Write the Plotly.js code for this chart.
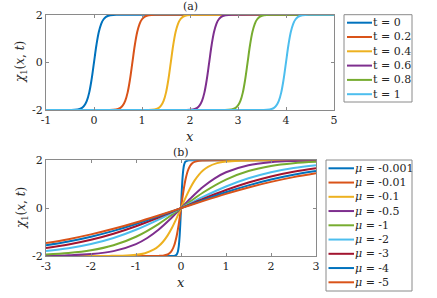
<!DOCTYPE html>
<html>
<head>
<meta charset="utf-8">
<script src="https://cdn.plot.ly/plotly-3.0.1.min.js"></script>
<style>html,body{margin:0;padding:0;background:#fff;}#plot{width:437px;height:298px;}</style>
</head>
<body>
<div id="plot"></div>
<script>
// ---------- data: panel (a) ----------
const kinkY = [-2, -1.998, -1.99, -1.956, -1.908, -1.81, -1.619, -1.27, -0.717, 0, 0.717, 1.27, 1.619, 1.81, 1.908, 1.956, 1.99, 1.998, 2];
const xT0  = [-1, -0.5, -0.4, -0.3, -0.25, -0.2, -0.15, -0.1, -0.05, 0, 0.05, 0.1, 0.15, 0.2, 0.25, 0.3, 0.4, 0.5, 5];
const xT02 = [-1, 0.3, 0.4, 0.5, 0.55, 0.6, 0.65, 0.7, 0.75, 0.8, 0.85, 0.9, 0.95, 1.0, 1.05, 1.1, 1.2, 1.3, 5];
const xT04 = [-1, 1.1, 1.2, 1.3, 1.35, 1.4, 1.45, 1.5, 1.55, 1.6, 1.65, 1.7, 1.75, 1.8, 1.85, 1.9, 2.0, 2.1, 5];
const xT06 = [-1, 1.9, 2.0, 2.1, 2.15, 2.2, 2.25, 2.3, 2.35, 2.4, 2.45, 2.5, 2.55, 2.6, 2.65, 2.7, 2.8, 2.9, 5];
const xT08 = [-1, 2.7, 2.8, 2.9, 2.95, 3.0, 3.05, 3.1, 3.15, 3.2, 3.25, 3.3, 3.35, 3.4, 3.45, 3.5, 3.6, 3.7, 5];
const xT1  = [-1, 3.5, 3.6, 3.7, 3.75, 3.8, 3.85, 3.9, 3.95, 4.0, 4.05, 4.1, 4.15, 4.2, 4.25, 4.3, 4.4, 4.5, 5];
const topX = [xT0, xT02, xT04, xT06, xT08, xT1];
const topLabels = ['t = 0', 't = 0.2', 't = 0.4', 't = 0.6', 't = 0.8', 't = 1'];

// ---------- data: panel (b) ----------
const xM0001 = [-3, -0.2, -0.15, -0.1, -0.07, -0.05, -0.04, -0.03, -0.02, -0.01, -0.005, 0, 0.005, 0.01, 0.02, 0.03, 0.04, 0.05, 0.07, 0.1, 0.15, 0.2, 3];
const yM0001 = [-2, -2, -1.994, -1.949, -1.819, -1.593, -1.404, -1.148, -0.820, -0.429, -0.217, 0, 0.217, 0.429, 0.820, 1.148, 1.404, 1.593, 1.819, 1.949, 1.994, 2, 2];
const xM001 = [-3, -1, -0.5, -0.4, -0.3, -0.25, -0.2, -0.15, -0.1, -0.08, -0.05, -0.02, 0, 0.02, 0.05, 0.08, 0.1, 0.15, 0.2, 0.25, 0.3, 0.4, 0.5, 1, 3];
const yM001 = [-2, -2, -1.996, -1.984, -1.937, -1.877, -1.762, -1.551, -1.195, -1.004, -0.664, -0.274, 0, 0.274, 0.664, 1.004, 1.195, 1.551, 1.762, 1.877, 1.937, 1.984, 1.996, 2, 2];
const xM01 = [-3, -2, -1.6, -1.3, -1, -0.8, -0.6, -0.5, -0.4, -0.3, -0.2, -0.1, 0, 0.1, 0.2, 0.3, 0.4, 0.5, 0.6, 0.8, 1, 1.3, 1.6, 2, 3];
const yM01 = [-2, -1.999, -1.996, -1.986, -1.950, -1.882, -1.728, -1.594, -1.405, -1.149, -0.821, -0.429, 0, 0.429, 0.821, 1.149, 1.405, 1.594, 1.728, 1.882, 1.950, 1.986, 1.996, 1.999, 2];
const xM05 = [-3, -2.5, -2, -1.5, -1, -0.75, -0.5, -0.25, 0, 0.25, 0.5, 0.75, 1, 1.5, 2, 2.5, 3];
const yM05 = [-1.989, -1.970, -1.921, -1.796, -1.502, -1.248, -0.905, -0.478, 0, 0.478, 0.905, 1.248, 1.502, 1.796, 1.921, 1.970, 1.989];
const xBroad = [-3, -2.5, -2, -1.5, -1, -0.5, 0, 0.5, 1, 1.5, 2, 2.5, 3];
const yM1 = [-1.937, -1.877, -1.762, -1.551, -1.195, -0.664, 0, 0.664, 1.195, 1.551, 1.762, 1.877, 1.937];
const yM2 = [-1.796, -1.679, -1.502, -1.248, -0.905, -0.478, 0, 0.478, 0.905, 1.248, 1.502, 1.679, 1.796];
const yM3 = [-1.664, -1.519, -1.324, -1.070, -0.757, -0.393, 0, 0.393, 0.757, 1.070, 1.324, 1.519, 1.664];
const yM4 = [-1.551, -1.395, -1.195, -0.951, -0.664, -0.341, 0, 0.341, 0.664, 0.951, 1.195, 1.395, 1.551];
const yM5 = [-1.457, -1.296, -1.097, -0.864, -0.598, -0.306, 0, 0.306, 0.598, 0.864, 1.097, 1.296, 1.457];
const botX = [xM0001, xM001, xM01, xM05, xBroad, xBroad, xBroad, xBroad, xBroad];
const botY = [yM0001, yM001, yM01, yM05, yM1, yM2, yM3, yM4, yM5];
const botLabels = ['<i>μ</i> = -0.001', '<i>μ</i> = -0.01', '<i>μ</i> = -0.1', '<i>μ</i> = -0.5', '<i>μ</i> = -1', '<i>μ</i> = -2', '<i>μ</i> = -3', '<i>μ</i> = -4', '<i>μ</i> = -5'];

// ticks
const xTopTicks = [-1, 0, 1, 2, 3, 4, 5];
const xTopText = ['-1', '0', '1', '2', '3', '4', '5'];
const xBotTicks = [-3, -2, -1, 0, 1, 2, 3];
const xBotText = ['-3', '-2', '-1', '0', '1', '2', '3'];
const yTicks = [-2, 0, 2];
const yText = ['-2', '0', '2'];

// ---------- styles ----------
const colors = ['#0072BD', '#D95319', '#EDB120', '#7E2F8E', '#77AC30', '#4DBEEE', '#A2142F', '#0072BD', '#D95319'];
const W = 437, H = 298;
const FONT = 'DejaVu Serif';
const px = v => v / W;
const py = v => 1 - v / H;

const traces = [];
topX.forEach((xs, i) => traces.push({
  x: xs, y: kinkY, xaxis: 'x', yaxis: 'y', type: 'scatter', mode: 'lines',
  line: {color: colors[i], width: 2, shape: 'spline', smoothing: 1}, showlegend: false, hoverinfo: 'skip'
}));
botX.forEach((xs, i) => traces.push({
  x: xs, y: botY[i], xaxis: 'x2', yaxis: 'y2', type: 'scatter', mode: 'lines',
  line: {color: colors[i], width: 2, shape: 'spline', smoothing: 1}, showlegend: false, hoverinfo: 'skip'
}));

function axisBase() {
  return {
    showgrid: false, zeroline: false, showline: true, linecolor: '#8a8a8a', linewidth: 1,
    mirror: 'ticks', ticks: 'inside', ticklen: 3, tickcolor: '#8a8a8a', tickwidth: 1,
    tickfont: {family: FONT, size: 11, color: '#262626'}, fixedrange: true
  };
}

const layout = {
  width: W, height: H, margin: {l: 0, r: 0, t: 0, b: 0},
  paper_bgcolor: '#fff', plot_bgcolor: '#fff', showlegend: false,
  font: {family: FONT, size: 11, color: '#262626'},
  xaxis: Object.assign(axisBase(), {domain: [px(46), px(334)], range: [-1, 5], tickvals: xTopTicks, ticktext: xTopText, anchor: 'y'}),
  yaxis: Object.assign(axisBase(), {domain: [py(110), py(14.7)], range: [-2, 2], tickvals: yTicks, ticktext: yText, anchor: 'x'}),
  xaxis2: Object.assign(axisBase(), {domain: [px(46), px(316)], range: [-3, 3], tickvals: xBotTicks, ticktext: xBotText, anchor: 'y2'}),
  yaxis2: Object.assign(axisBase(), {domain: [py(256), py(160.3)], range: [-2, 2], tickvals: yTicks, ticktext: yText, anchor: 'x2'}),
  shapes: [], annotations: []
};

function ann(x, y, text, opts) {
  layout.annotations.push(Object.assign({
    xref: 'paper', yref: 'paper', x: px(x), y: py(y), text: text, showarrow: false,
    font: {family: FONT, size: 11, color: '#262626'}, xanchor: 'center', yanchor: 'middle'
  }, opts || {}));
}
ann(190, 6.7, '(a)');
ann(181, 152.5, '(b)');
ann(190, 136, '<i>x</i>', {font: {family: FONT, size: 13, color: '#262626'}});
ann(181, 282, '<i>x</i>', {font: {family: FONT, size: 13, color: '#262626'}});
ann(21, 62, '<i>χ</i><sub>1</sub>(<i>x</i>, <i>t</i>)', {textangle: -90, font: {family: FONT, size: 12, color: '#262626'}});
ann(22, 208, '<i>χ</i><sub>1</sub>(<i>x</i>, <i>t</i>)', {textangle: -90, font: {family: FONT, size: 12, color: '#262626'}});

function legendBox(x0, y0, x1, y1, labels, firstY, dy, lx0, lx1, tx) {
  layout.shapes.push({type: 'rect', xref: 'paper', yref: 'paper', x0: px(x0), x1: px(x1), y0: py(y1), y1: py(y0),
    line: {color: '#8a8a8a', width: 1}, fillcolor: '#fff', layer: 'above'});
  labels.forEach((lab, i) => {
    const yy = firstY + i * dy;
    layout.shapes.push({type: 'line', xref: 'paper', yref: 'paper', x0: px(lx0), x1: px(lx1), y0: py(yy), y1: py(yy),
      line: {color: colors[i], width: 2}, layer: 'above'});
    ann(tx, yy, lab, {xanchor: 'left', font: {family: FONT, size: 11, color: '#262626'}});
  });
}
legendBox(344, 14.7, 412, 102, topLabels, 22.7, 14.3, 347, 372, 371);
legendBox(326, 160, 412, 291, botLabels, 168.3, 14.25, 328.5, 354, 353);

Plotly.newPlot('plot', traces, layout, {staticPlot: true, displayModeBar: false});
</script>
</body>
</html>
